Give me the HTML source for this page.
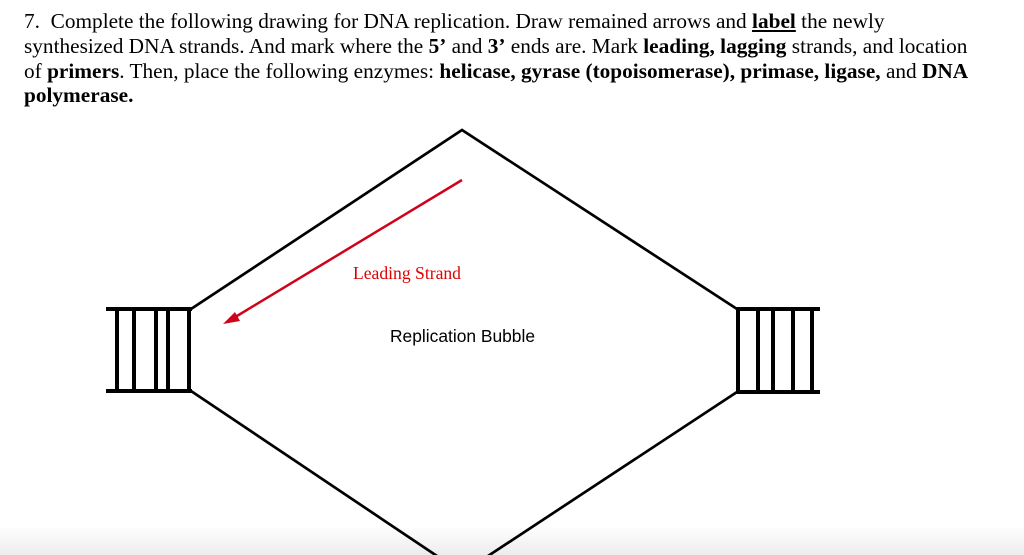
<!DOCTYPE html>
<html><head><style>
html,body{margin:0;padding:0;background:#fff;width:1024px;height:555px;overflow:hidden;position:relative}
.t{position:absolute;left:24px;font-family:"Liberation Serif",serif;font-size:21.3px;white-space:nowrap;color:#000;line-height:1}
</style></head><body>
<div style="position:absolute;left:0;top:526px;width:1024px;height:29px;background:linear-gradient(#fff,#ececec)"></div>
<div class="t" style="top:11px">7.&nbsp; Complete the following drawing for DNA replication. Draw remained arrows and <b><u>label</u></b> the newly</div>
<div class="t" style="top:36px">synthesized DNA strands. And mark where the <b>5’</b> and <b>3’</b> ends are. Mark <b>leading, lagging</b> strands, and location</div>
<div class="t" style="top:61px">of <b>primers</b>. Then, place the following enzymes: <b>helicase, gyrase (topoisomerase), primase, ligase,</b> and <b>DNA</b></div>
<div class="t" style="top:85px"><b>polymerase.</b></div>
<svg width="1024" height="555" style="position:absolute;left:0;top:0">
<g stroke="#000" stroke-width="2.7" fill="none">
<polyline points="191,309 462,130 737,309"/>
<line x1="191" y1="391" x2="437" y2="556"/>
<line x1="737" y1="392" x2="488" y2="556"/>
</g>
<g stroke="#000" stroke-width="4">
<line x1="106" y1="309" x2="192" y2="309"/>
<line x1="106" y1="391" x2="192" y2="391"/>
<line x1="117" y1="309" x2="117" y2="391"/>
<line x1="134" y1="309" x2="134" y2="391"/>
<line x1="156" y1="309" x2="156" y2="391"/>
<line x1="168" y1="309" x2="168" y2="391"/>
<line x1="189" y1="309" x2="189" y2="391"/>
<line x1="736" y1="309" x2="820" y2="309"/>
<line x1="736" y1="392" x2="820" y2="392"/>
<line x1="738" y1="309" x2="738" y2="392"/>
<line x1="758" y1="309" x2="758" y2="392"/>
<line x1="773" y1="309" x2="773" y2="392"/>
<line x1="793" y1="309" x2="793" y2="392"/>
<line x1="812" y1="309" x2="812" y2="392"/>
</g>
<line x1="462" y1="180" x2="232" y2="319" stroke="#d0021b" stroke-width="2.5"/>
<polygon points="223,324 235,312 240,321" fill="#d0021b"/>
<text x="353" y="279" font-family="Liberation Serif, serif" font-size="17.6" fill="#e00000">Leading Strand</text>
<text x="390" y="342" font-family="Liberation Sans, sans-serif" font-size="17.4" fill="#000">Replication Bubble</text>
</svg>
</body></html>
